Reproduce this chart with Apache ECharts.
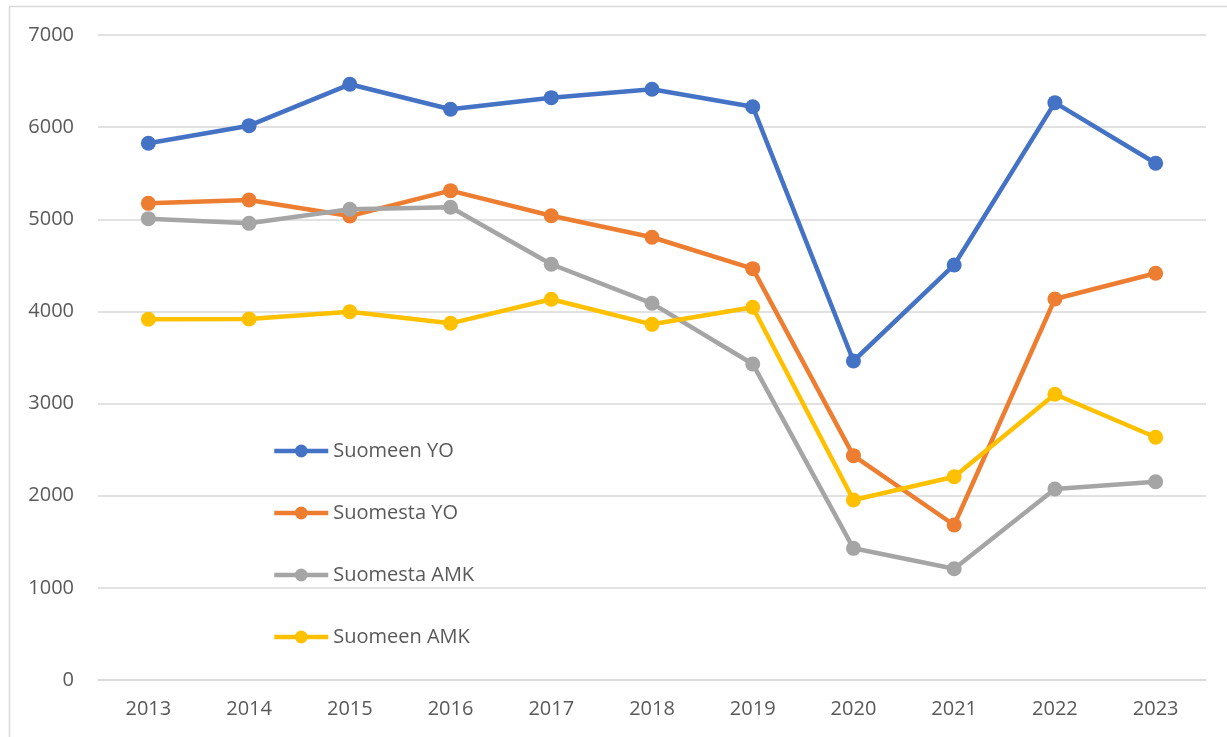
<!DOCTYPE html>
<html>
<head>
<meta charset="utf-8">
<script src="https://cdn.jsdelivr.net/npm/echarts@6/dist/echarts.min.js"></script>
<style>
  html, body { margin: 0; padding: 0; background: #fff; }
  #chart { width: 1227px; height: 737px; }
</style>
</head>
<body>
<div id="chart"></div>
<script>
  const years = ['2013', '2014', '2015', '2016', '2017', '2018', '2019', '2020', '2021', '2022', '2023']
  const seriesNames = ['Suomeen YO', 'Suomesta YO', 'Suomesta AMK', 'Suomeen AMK']
  const suomeenYO = [5825, 6016, 6465, 6194, 6320, 6411, 6222, 3462, 4504, 6266, 5608]
  const suomestaYO = [5173, 5209, 5036, 5311, 5039, 4805, 4464, 2435, 1682, 4135, 4414]
  const suomestaAMK = [5007, 4956, 5108, 5130, 4512, 4088, 3430, 1429, 1208, 2073, 2152]
  const suomeenAMK = [3915, 3918, 3997, 3871, 4132, 3860, 4045, 1954, 2206, 3101, 2634]
  const colors = ['#4472C4', '#ED7D31', '#A5A5A5', '#FFC000']

  const FONT = '"Open Sans", "Noto Sans", sans-serif'
  const TEXT = '#595959'
  const GRID = '#d9d9d9'

  const values = [suomeenYO, suomestaYO, suomestaAMK, suomeenAMK]
  let series = values.map((data, i) => ({
    name: seriesNames[i],
    type: 'line',
    data: data,
    symbol: 'circle',
    symbolSize: 15,
    lineStyle: { width: 4.5, color: colors[i] },
    itemStyle: { color: colors[i] },
    emphasis: { disabled: true },
    animation: false
  }))

  let chart = echarts.init(document.getElementById('chart'), null, { renderer: 'canvas' })
  chart.setOption({
    backgroundColor: '#fff',
    color: colors,
    animation: false,
    textStyle: { fontFamily: FONT },
    graphic: [{
      type: 'rect',
      shape: { x: 9.5, y: 6.5, width: 1400, height: 900 },
      style: { fill: 'none', stroke: GRID, lineWidth: 1.5 },
      silent: true
    }],
    grid: { left: 98, right: 21, top: 35, bottom: 57, containLabel: false },
    legend: {
      orient: 'vertical',
      left: 267,
      top: 436,
      itemWidth: 54,
      itemHeight: 16,
      itemGap: 42,
      data: seriesNames,
      lineStyle: { width: 4.5 },
      textStyle: { color: TEXT, fontSize: 20, fontFamily: FONT, lineHeight: 20 }
    },
    xAxis: {
      type: 'category',
      data: years,
      boundaryGap: true,
      axisLine: { show: true, lineStyle: { color: GRID, width: 1.5 } },
      axisTick: { show: false },
      axisLabel: { color: TEXT, fontSize: 20, fontFamily: FONT, margin: 19 },
      splitLine: { show: false }
    },
    yAxis: {
      type: 'value',
      min: 0,
      max: 7000,
      interval: 1000,
      axisLine: { show: false },
      axisTick: { show: false },
      axisLabel: { color: TEXT, fontSize: 20, fontFamily: FONT, margin: 24, formatter: v => String(v) },
      splitLine: { lineStyle: { color: GRID, width: 1.5 } }
    },
    series: series
  })
</script>
</body>
</html>
